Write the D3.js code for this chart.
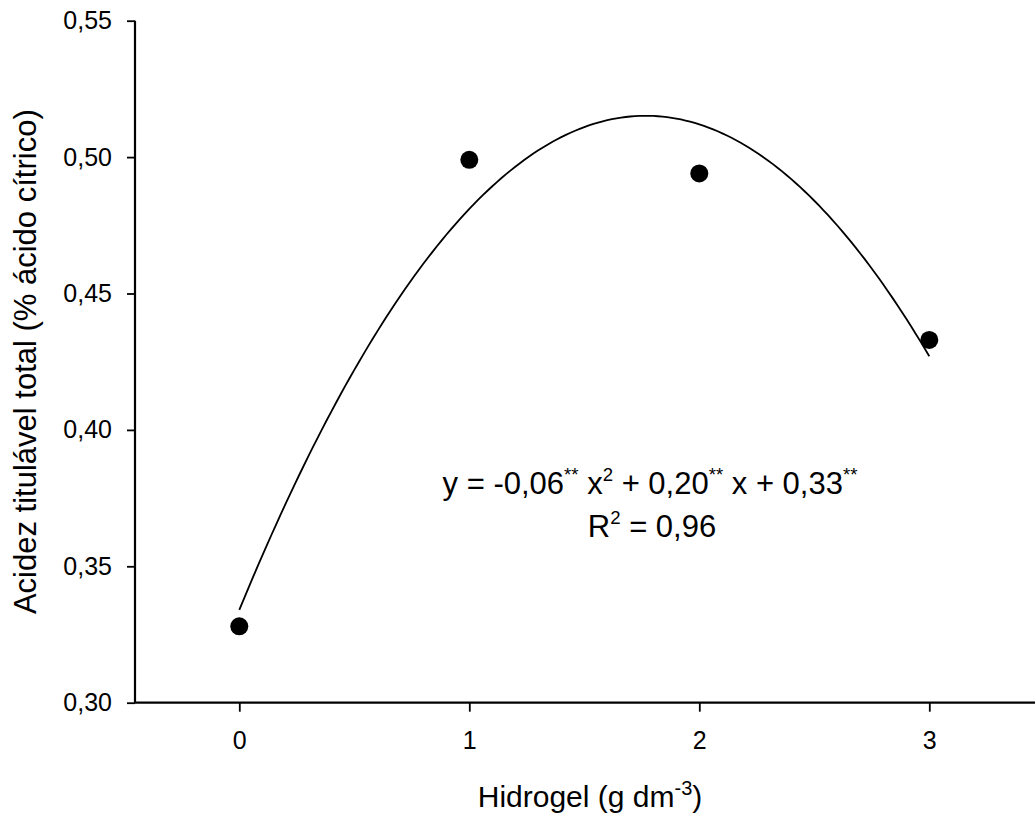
<!DOCTYPE html>
<html>
<head>
<meta charset="utf-8">
<script src="https://cdn.jsdelivr.net/npm/d3@7"></script>
<style>
  html, body { margin: 0; padding: 0; background: #fff; }
  svg { display: block; font-family: "Liberation Sans", Arial, sans-serif; }
</style>
</head>
<body>
<svg id="chart" width="1035" height="819"></svg>
<script>
// Hydrogel dose (g dm-3) and mean total titratable acidity (% citric acid)
const doses = [0, 1, 2, 3];
const acidity = [0.328, 0.499, 0.494, 0.433];
const xTicks = [0, 1, 2, 3];
const yTicks = [0.30, 0.35, 0.40, 0.45, 0.50, 0.55];
const equationLine = ["y = -0,06", "**", " x", "2", " + 0,20", "**", " x + 0,33", "**"];
const r2Line = ["R", "2", " = 0,96"];

const width = 1035, height = 819;
const margin = { left: 135, right: 0, top: 20.7, bottom: 116.3 };

const svg = d3.select("#chart");
const ptBR = d3.formatLocale({ decimal: ",", thousands: ".", grouping: [3], currency: ["R$ ", ""] });
const fmt = ptBR.format(".2f");

const x = d3.scaleLinear().domain([0, 3]).range([239.3, 929.3]);
const y = d3.scaleLinear().domain([0.30, 0.55]).range([height - margin.bottom, margin.top]);

// Least-squares quadratic fit y = c0 + c1 x + c2 x^2
function quadFit(xs, ys) {
  const S = k => d3.sum(xs, v => Math.pow(v, k));
  const T = k => d3.sum(xs, (v, i) => Math.pow(v, k) * ys[i]);
  const A = [[S(0), S(1), S(2)], [S(1), S(2), S(3)], [S(2), S(3), S(4)]];
  const b = [T(0), T(1), T(2)];
  for (let i = 0; i < 3; i++) {
    for (let j = i + 1; j < 3; j++) {
      const f = A[j][i] / A[i][i];
      for (let k = i; k < 3; k++) A[j][k] -= f * A[i][k];
      b[j] -= f * b[i];
    }
  }
  const c = [0, 0, 0];
  for (let i = 2; i >= 0; i--) {
    let s = b[i];
    for (let k = i + 1; k < 3; k++) s -= A[i][k] * c[k];
    c[i] = s / A[i][i];
  }
  return c;
}
const coef = quadFit(doses, acidity);
const fitted = d3.range(0, 3.0001, 0.02).map(v => [v, coef[0] + coef[1] * v + coef[2] * v * v]);

// Axes
const xAxisG = svg.append("g")
  .attr("transform", `translate(0,${y(0.30)})`)
  .call(d3.axisBottom(x).tickValues(xTicks).tickFormat(d3.format("d")).tickSize(9).tickPadding(20));
xAxisG.select(".domain").attr("d", `M${margin.left},0H${width}`);

const yAxisG = svg.append("g")
  .attr("transform", `translate(${margin.left},0)`)
  .call(d3.axisLeft(y).tickValues(yTicks).tickFormat(fmt).tickSize(8).tickPadding(15));
yAxisG.select(".domain").attr("d", `M0,${y(0.55)}V${y(0.30)}`);

svg.selectAll(".domain").attr("stroke", "#000").attr("stroke-width", 2.2);
svg.selectAll(".tick line").attr("stroke", "#000").attr("stroke-width", 1.8);
svg.selectAll(".tick text").attr("fill", "#000").attr("font-size", 25)
  .attr("font-family", "'Liberation Sans', Arial, sans-serif");

// Fitted curve
svg.append("path")
  .datum(fitted)
  .attr("fill", "none")
  .attr("stroke", "#000")
  .attr("stroke-width", 1.8)
  .attr("d", d3.line().x(d => x(d[0])).y(d => y(d[1])));

// Observed means
svg.append("g").selectAll("circle")
  .data(doses.map((d, i) => [d, acidity[i]]))
  .join("circle")
  .attr("cx", d => x(d[0]))
  .attr("cy", d => y(d[1]))
  .attr("r", 9)
  .attr("fill", "#000");

// Axis titles
svg.append("text")
  .attr("transform", `translate(35.5,${(y(0.55) + y(0.30)) / 2}) rotate(-90)`)
  .attr("text-anchor", "middle")
  .attr("font-size", 31)
  .attr("fill", "#000")
  .text("Acidez titulável total (% ácido cítrico)");

const xt = svg.append("text")
  .attr("x", 590).attr("y", 807)
  .attr("text-anchor", "middle")
  .attr("font-size", 30)
  .attr("fill", "#000");
xt.append("tspan").text("Hidrogel (g dm");
xt.append("tspan").attr("dy", -12).attr("font-size", 20).text("-3");
xt.append("tspan").attr("dy", 12).text(")");

// Regression equation
function richLine(parts, cx, cy, size) {
  const t = svg.append("text")
    .attr("x", cx).attr("y", cy)
    .attr("text-anchor", "middle")
    .attr("font-size", size)
    .attr("fill", "#000");
  let raised = false;
  parts.forEach(p => {
    const sup = p === "**" || p === "2";
    const ts = t.append("tspan").text(p);
    if (sup && !raised) { ts.attr("dy", -13).attr("font-size", size * 0.6); raised = true; }
    else if (sup) { ts.attr("font-size", size * 0.6); }
    else if (!sup && raised) { ts.attr("dy", 13); raised = false; }
  });
  return t;
}
richLine(equationLine, 650, 494, 31);
richLine(r2Line, 652, 537, 31);
</script>
</body>
</html>
